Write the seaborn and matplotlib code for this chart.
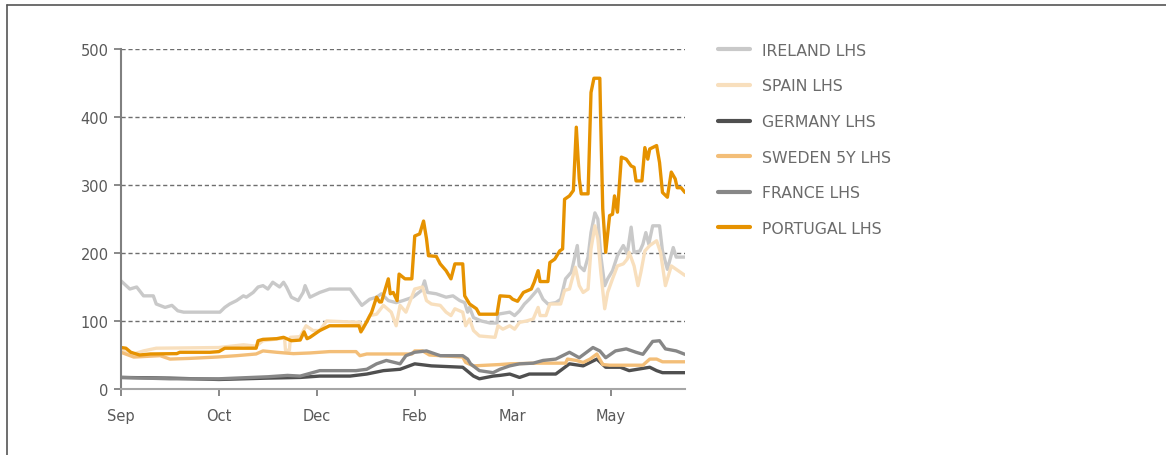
import pandas as pd
import matplotlib.pyplot as plt
import seaborn as sns
from matplotlib.lines import Line2D

# x positions are in "tick units": 0 = Sep, 1 = Oct, 2 = Dec, 3 = Feb, 4 = Mar, 5 = May
month_labels = ['Sep', 'Oct', 'Dec', 'Feb', 'Mar', 'May']

ireland_x = [0, 0.09, 0.16, 0.23, 0.33, 0.36, 0.45, 0.52, 0.58, 0.64, 1.01, 1.06, 1.11, 1.18,
             1.25, 1.28, 1.35, 1.40, 1.45, 1.50, 1.55, 1.62, 1.66, 1.69, 1.74, 1.81, 1.86, 1.88,
             1.93, 2.03, 2.13, 2.34, 2.40, 2.46, 2.54, 2.61, 2.66, 2.73, 2.81, 2.88, 2.98, 3.07,
             3.10, 3.13, 3.22, 3.32, 3.39, 3.46, 3.51, 3.54, 3.56, 3.60, 3.68, 3.77, 3.84, 3.85,
             3.97, 4.02, 4.07, 4.12, 4.17, 4.26, 4.31, 4.36, 4.44, 4.49, 4.54, 4.60, 4.66, 4.68,
             4.73, 4.77, 4.80, 4.84, 4.87, 4.90, 4.94, 4.97, 5.02, 5.07, 5.13, 5.17, 5.21, 5.24,
             5.30, 5.33, 5.36, 5.39, 5.43, 5.50, 5.53, 5.58, 5.64, 5.67, 5.76]
ireland_y = [159, 147, 150, 137, 137, 125, 120, 123, 115, 113, 113, 120, 125, 130,
             137, 135, 142, 150, 152, 147, 157, 150, 157, 150, 135, 130, 142, 152,
             135, 142, 147, 147, 135, 123, 132, 135, 140, 130, 127, 130, 135, 145,
             159, 142, 140, 135, 137, 130, 127, 113, 120, 105, 100, 97, 97, 110,
             113, 108, 115, 125, 132, 147, 132, 125, 127, 132, 162, 172, 211, 181,
             174, 194, 230, 259, 250, 196, 152, 162, 174, 196, 211, 199, 238, 201,
             203, 213, 230, 213, 240, 240, 203, 176, 208, 194, 194]

spain_x = [0, 0.13, 0.23, 0.36, 1.0, 1.25, 1.38, 1.45, 1.59, 1.67, 1.68, 1.72, 1.73, 1.83,
           1.89, 1.96, 2.03, 2.10, 2.44, 2.47, 2.54, 2.61, 2.68, 2.76, 2.81, 2.85, 2.91, 3.0,
           3.08, 3.12, 3.17, 3.26, 3.32, 3.37, 3.41, 3.49, 3.52, 3.56, 3.60, 3.66, 3.82, 3.85,
           3.90, 3.97, 4.02, 4.07, 4.14, 4.21, 4.26, 4.28, 4.34, 4.38, 4.49, 4.53, 4.58, 4.64,
           4.68, 4.72, 4.77, 4.80, 4.84, 4.87, 4.90, 4.94, 4.97, 5.02, 5.07, 5.13, 5.17, 5.19,
           5.24, 5.28, 5.31, 5.35, 5.40, 5.47, 5.51, 5.56, 5.62, 5.67, 5.76]
spain_y = [56, 51.5, 56, 60, 61, 65, 63, 71, 73.5, 75, 57, 57, 76, 77,
           93, 86, 86, 100, 98, 88, 108, 110, 123, 113, 93, 123, 113, 147,
           150, 130, 125, 123, 113, 108, 118, 113, 93, 103, 86, 78, 76, 93,
           88, 93, 88, 98, 100, 103, 120, 108, 108, 125, 125, 145, 147, 179,
           152, 142, 147, 206, 240, 221, 172, 118, 142, 162, 181, 184, 191, 201,
           181, 152, 172, 203, 211, 218, 201, 152, 181, 176, 167]

germany_x = [0, 0.5, 1.0, 1.5, 1.83, 2.03, 2.34, 2.51, 2.68, 2.85, 3.0, 3.17, 3.49, 3.60,
             3.66, 3.80, 3.87, 3.97, 4.07, 4.17, 4.44, 4.58, 4.72, 4.86, 4.95, 5.10, 5.19,
             5.40, 5.47, 5.53, 5.76]
germany_y = [17, 16, 14, 16, 17, 19, 19, 22, 27, 29, 37, 34, 32, 19,
             15, 19, 20, 22, 17, 22, 22, 37, 34, 44, 32, 32, 27,
             32, 27, 24, 24]

sweden_x = [0, 0.13, 0.4, 0.5, 0.7, 0.98, 1.18, 1.38, 1.45, 1.59, 1.76, 1.93, 2.03, 2.13,
            2.40, 2.44, 2.51, 2.97, 3.0, 3.08, 3.15, 3.49, 3.52, 3.60, 3.87, 3.97, 4.24, 4.54,
            4.56, 4.65, 4.72, 4.79, 4.86, 4.92, 4.99, 5.33, 5.40, 5.47, 5.53, 5.76]
sweden_y = [54, 47, 49, 44, 45, 47, 49, 51.5, 56, 54, 52, 53, 54, 55,
            55, 49, 51.5, 51.5, 56, 56, 50, 47, 39, 34, 36, 37, 38, 38,
            44, 42, 39, 44, 51.5, 36, 35, 35, 44, 44, 40, 40]

france_x = [0, 0.5, 1.0, 1.5, 1.7, 1.83, 2.03, 2.40, 2.51, 2.61, 2.71, 2.85, 2.91, 3.0,
            3.12, 3.26, 3.49, 3.54, 3.57, 3.66, 3.80, 3.87, 3.97, 4.07, 4.21, 4.31, 4.44,
            4.58, 4.68, 4.82, 4.89, 4.95, 5.05, 5.16, 5.26, 5.33, 5.43, 5.50, 5.56, 5.67, 5.76]
france_y = [17, 15, 15, 18, 20, 19, 27, 27, 29, 37, 42, 37, 49, 54,
            56, 49, 49, 44, 37, 27, 24, 29, 34, 37, 38, 42, 44,
            54, 46, 61, 56, 46, 56, 59, 54, 51, 70, 71, 59, 56, 51]

portugal_x = [0, 0.05, 0.1, 0.19, 0.3, 0.57, 0.6, 0.91, 1.0, 1.06, 1.38, 1.40, 1.45, 1.59,
              1.66, 1.74, 1.83, 1.87, 1.90, 1.93, 2.03, 2.13, 2.43, 2.45, 2.51, 2.56, 2.61,
              2.64, 2.66, 2.73, 2.75, 2.78, 2.82, 2.84, 2.90, 2.97, 3.0, 3.05, 3.09, 3.12,
              3.14, 3.22, 3.26, 3.32, 3.37, 3.41, 3.49, 3.51, 3.56, 3.63, 3.66, 3.84, 3.87,
              3.97, 4.0, 4.05, 4.11, 4.19, 4.22, 4.26, 4.28, 4.36, 4.38, 4.43, 4.48, 4.51,
              4.53, 4.58, 4.62, 4.65, 4.68, 4.70, 4.77, 4.80, 4.83, 4.89, 4.90, 4.92, 4.95,
              4.99, 5.02, 5.04, 5.07, 5.11, 5.16, 5.21, 5.24, 5.26, 5.32, 5.35, 5.38, 5.40,
              5.47, 5.50, 5.53, 5.58, 5.62, 5.66, 5.68, 5.72, 5.76]
portugal_y = [61, 60, 54, 50, 51.5, 52, 54, 54, 55, 60, 60, 71, 73, 74,
              76, 71, 72, 84, 74, 76, 86, 93, 93, 84, 99, 113, 135,
              128, 128, 162, 140, 142, 130, 169, 162, 162, 225, 228, 247, 221,
              196, 195, 184, 174, 162, 184, 184, 137, 125, 118, 110, 110, 137,
              136, 132, 129, 142, 147, 157, 174, 158, 158, 186, 191, 203, 206,
              279, 284, 292, 385, 309, 287, 287, 436, 457, 457, 387, 265, 201,
              255, 257, 284, 260, 341, 338, 328, 326, 306, 306, 355, 338, 353,
              358, 333, 289, 282, 319, 309, 296, 296, 289]

series_names = ['IRELAND LHS', 'SPAIN LHS', 'GERMANY LHS', 'SWEDEN 5Y LHS', 'FRANCE LHS', 'PORTUGAL LHS']
series_x = [ireland_x, spain_x, germany_x, sweden_x, france_x, portugal_x]
series_y = [ireland_y, spain_y, germany_y, sweden_y, france_y, portugal_y]
colors = ['#C9C9C9', '#F8DFBD', '#4F4F4F', '#F3BE78', '#878787', '#E69200']

frames = []
for name, xs, ys in zip(series_names, series_x, series_y):
    frames.append(pd.DataFrame({'t': xs, 'value': ys, 'series': name}))
df = pd.concat(frames, ignore_index=True)

sns.set_theme(style="white")
plt.rcParams['font.family'] = ['DejaVu Sans']

fig = plt.figure(figsize=(11.66, 4.56), dpi=100)
ax = fig.add_axes([121 / 1166, 1 - 390 / 456, 564 / 1166, 340 / 456])

sns.lineplot(data=df, x='t', y='value', hue='series', hue_order=series_names,
             palette=dict(zip(series_names, colors)), sort=False, estimator=None,
             linewidth=2.4, ax=ax)

ax.set_xlim(0, 5.76)
ax.set_ylim(0, 500)
ax.set_xticks(range(len(month_labels)))
ax.set_xticklabels(month_labels)
ax.set_yticks([0, 100, 200, 300, 400, 500])
ax.set_xlabel('')
ax.set_ylabel('')

# dashed grid (not at zero)
for yv in [100, 200, 300, 400, 500]:
    ax.axhline(yv, color='#6E6E6E', lw=1.0, ls=(0, (3, 2)), zorder=0)

for side in ['top', 'right']:
    ax.spines[side].set_visible(False)
ax.spines['left'].set_color('#808080')
ax.spines['left'].set_linewidth(1.5)
ax.spines['bottom'].set_color('#A6A6A6')
ax.spines['bottom'].set_linewidth(1.5)
ax.tick_params(axis='both', colors='#808080', labelcolor='#595959', labelsize=10.5,
               length=5, width=1.3, direction='out', bottom=True, left=True)
ax.tick_params(axis='x', pad=9)
ax.tick_params(axis='y', pad=4)

handles, labels = ax.get_legend_handles_labels()
leg = ax.legend(handles, labels, loc='upper left', bbox_to_anchor=(1.058, 1.018),
                frameon=False, fontsize=11.3, handlelength=2.05, handletextpad=0.75,
                labelspacing=1.31, borderpad=0, borderaxespad=0)
for line in leg.get_lines():
    line.set_linewidth(3)
for txt in leg.get_texts():
    txt.set_color('#6B6B6B')

# outer frame (left and top edges)
fig.add_artist(Line2D([7 / 1166, 7 / 1166], [0, 1 - 6 / 456], color='#555555', lw=1.2,
                      transform=fig.transFigure))
fig.add_artist(Line2D([7 / 1166, 1], [1 - 6 / 456, 1 - 6 / 456], color='#555555', lw=1.2,
                      transform=fig.transFigure))

fig.savefig('out.png', dpi=100)
